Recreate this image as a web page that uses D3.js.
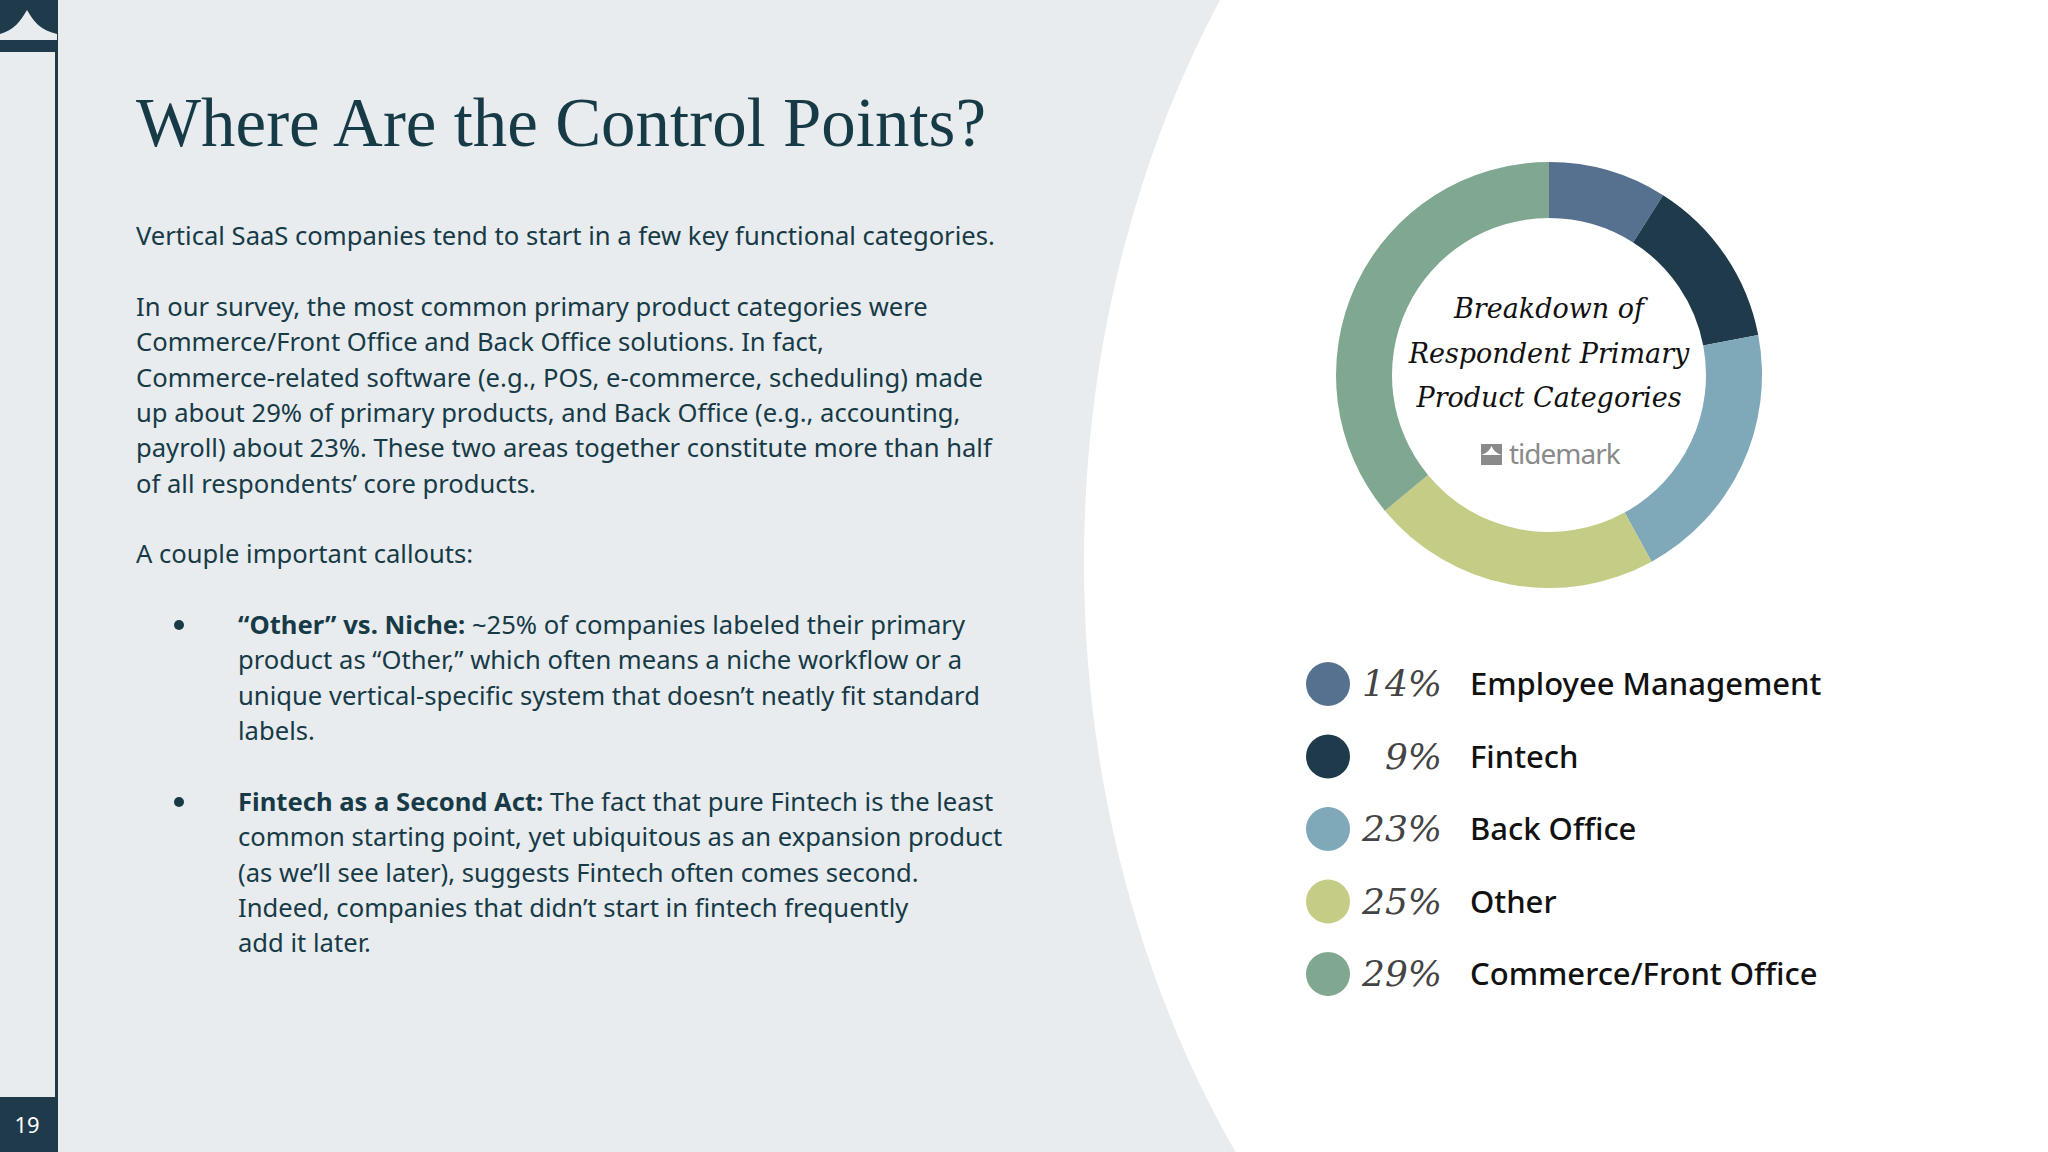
<!DOCTYPE html>
<html><head><meta charset="utf-8">
<script src="https://cdn.jsdelivr.net/npm/d3@7"></script>
<style>body{margin:0;overflow:hidden}svg{display:block}</style>
</head><body>
<script>
const categories=["Employee Management","Fintech","Back Office","Other","Commerce/Front Office"];
const legendPercents=["14%","9%","23%","25%","29%"];
const sliceValues=[9,13,20,22,36];
const colors=["#56708f","#1f3a4a","#7fa8b8","#c5cc86","#80a890"];
const para1=["Vertical SaaS companies tend to start in a few key functional categories."];
const para2=["In our survey, the most common primary product categories were","Commerce/Front Office and Back Office solutions. In fact,","Commerce-related software (e.g., POS, e-commerce, scheduling) made","up about 29% of primary products, and Back Office (e.g., accounting,","payroll) about 23%. These two areas together constitute more than half","of all respondents’ core products."];
const bullet1=[["“Other” vs. Niche:"," ~25% of companies labeled their primary"],["","product as “Other,” which often means a niche workflow or a"],["","unique vertical-specific system that doesn’t neatly fit standard"],["","labels."]];
const bullet2=[["Fintech as a Second Act:"," The fact that pure Fintech is the least"],["","common starting point, yet ubiquitous as an expansion product"],["","(as we’ll see later), suggests Fintech often comes second."],["","Indeed, companies that didn’t start in fintech frequently"],["","add it later."]];

const W=2048,H=1152;
const svg=d3.select("body").append("svg").attr("width",W).attr("height",H);
svg.append("rect").attr("width",W).attr("height",H).attr("fill","#e8ecee");
svg.append("ellipse").attr("cx",1084+787).attr("cy",562).attr("rx",787).attr("ry",1000).attr("fill","#fff");
svg.append("line").attr("x1",56.5).attr("x2",56.5).attr("y1",0).attr("y2",H).attr("stroke","#1f3a4a").attr("stroke-width",3);
svg.append("rect").attr("x",0).attr("y",0).attr("width",57).attr("height",52).attr("fill","#1f3a4a");
svg.append("path").attr("d","M0,34 C14,30 20,22 27,10 C34,22 40,30 57,34 L57,40 L0,40 Z").attr("fill","#e8ecee");
svg.append("rect").attr("x",0).attr("y",1097).attr("width",57).attr("height",55).attr("fill","#1f3a4a");
svg.append("text").attr("x",27).attr("y",1133).attr("text-anchor","middle").attr("fill","#fff").attr("font-family","Noto Sans").attr("font-size",22).text("19");
svg.append("text").attr("x",136).attr("y",146).attr("font-family","Liberation Serif, DejaVu Serif").attr("font-size",70).attr("fill","#173a47").attr("textLength",850).attr("lengthAdjust","spacingAndGlyphs").text("Where Are the Control Points?");
const body={family:"Noto Sans",size:25.6,fill:"#173a47"};
function lines(arr,x,y0,dy){arr.forEach((l,i)=>svg.append("text").attr("x",x).attr("y",y0+i*dy).attr("font-family",body.family).attr("font-size",body.size).attr("fill",body.fill).text(l));}
lines(para1,136,245,35.3);
lines(para2,136,316,35.3);
lines(["A couple important callouts:"],136,563,35.3);
function bullets(arr,y0){
  svg.append("circle").attr("cx",179).attr("cy",y0-9).attr("r",5).attr("fill","#173a47");
  arr.forEach((l,i)=>{const t=svg.append("text").attr("x",238).attr("y",y0+i*35.3).attr("font-family",body.family).attr("font-size",body.size).attr("fill",body.fill);
    if(l[0])t.append("tspan").attr("font-weight",700).text(l[0]);t.append("tspan").text(l[1]);});
}
bullets(bullet1,634);bullets(bullet2,811);
const cx=1549,cy=375;
const pie=d3.pie().sort(null).value(d=>d);
const arc=d3.arc().innerRadius(157).outerRadius(213);
svg.append("g").attr("transform",`translate(${cx},${cy})`).selectAll("path").data(pie(sliceValues)).join("path").attr("d",arc).attr("fill",(d,i)=>colors[i]);
["Breakdown of","Respondent Primary","Product Categories"].forEach((t,i)=>svg.append("text").attr("x",cx).attr("y",318+i*44.5).attr("text-anchor","middle").attr("font-family","DejaVu Serif").attr("font-style","italic").attr("font-size",27).attr("fill","#111").text(t));
svg.append("rect").attr("x",1481).attr("y",444).attr("width",21).attr("height",21).attr("fill","#8a8a8a");
svg.append("path").attr("d","M1481,455 C1488,453 1490,449 1491.5,446 C1493,449 1495,453 1502,455Z").attr("fill","#fff");
svg.append("text").attr("x",1509).attr("y",464).attr("font-family","Noto Sans").attr("font-size",28).attr("fill","#8a8a8a").attr("letter-spacing",-1).text("tidemark");
const y=d3.scalePoint().domain(categories).range([684,974]);
const lg=svg.append("g").selectAll("g").data(categories).join("g").attr("transform",d=>`translate(0,${y(d)})`);
lg.append("circle").attr("cx",1328).attr("r",22).attr("fill",(d,i)=>colors[i]);
lg.append("text").attr("x",1442).attr("y",12).attr("text-anchor","end").attr("font-family","DejaVu Serif").attr("font-style","italic").attr("font-size",36).attr("fill","#444").text((d,i)=>legendPercents[i]);
lg.append("text").attr("x",1470).attr("y",11).attr("font-family","Noto Sans").attr("font-weight",500).attr("font-size",31).attr("fill","#111").text(d=>d);
</script></body></html>
